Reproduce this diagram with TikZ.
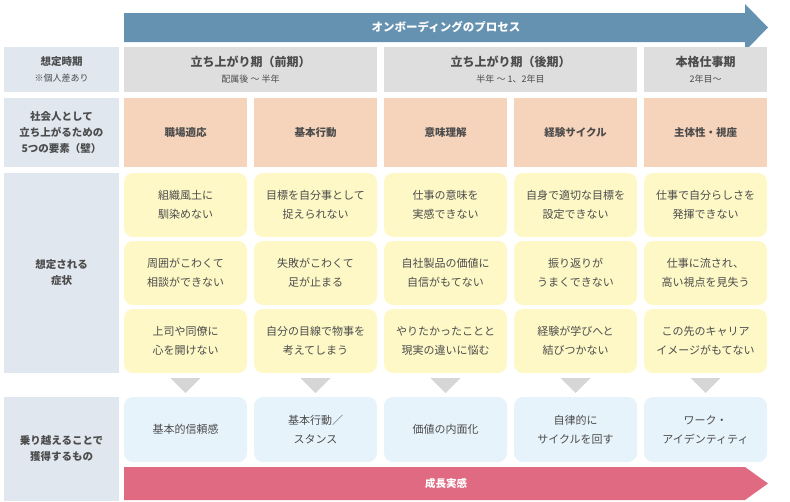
\documentclass[tikz,border=0pt]{standalone}
\usepackage{fontspec}
\setmainfont{Noto Sans CJK JP}
\begin{document}
\begin{tikzpicture}[x=1pt,y=-1pt,
  txt/.style={text=black!70,align=center,font=\fontsize{11}{19}\selectfont},
  lab/.style={fill=labbg,txt,font=\bfseries\fontsize{10.5}{16}\selectfont},
  per/.style={fill=perbg},
  wall/.style={fill=wallbg},
  sym/.style={fill=symbg,rounded corners=9pt},
  gain/.style={fill=gainbg,rounded corners=9pt},
  tri/.style={fill=tribg}]
\definecolor{labbg}{HTML}{E0E7EF}
\definecolor{perbg}{HTML}{DEDEDE}
\definecolor{wallbg}{HTML}{F6D4BB}
\definecolor{symbg}{HTML}{FDF8C6}
\definecolor{gainbg}{HTML}{E7F3FB}
\definecolor{tribg}{HTML}{D6D6D6}
\definecolor{topbg}{HTML}{6692B1}
\definecolor{growbg}{HTML}{DF6A82}
\useasboundingbox (0,0) rectangle (790,501);
% top arrow
\fill[topbg] (124,13) -- (745,13) -- (745,4) -- (768,27.5) -- (745,51) -- (745,42) -- (124,42) -- cycle;
\node[text=white,font=\bfseries\fontsize{11.5}{14}\selectfont] (ttl) at (446,27.5) {オンボーディングのプロセス};
% left labels
\fill[labbg] (4,47) rectangle (119,92);
\node[txt] (l1) at (61.5,69.5) {{\bfseries\fontsize{10.5}{14}\selectfont 想定時期}\\[-3pt]{\fontsize{9}{12}\selectfont ※個人差あり}};
\fill[labbg] (4,98) rectangle (119,167);
\node[lab] (l2) at (61.5,132.5) {社会人として\\立ち上がるための\\5つの要素（壁）};
\fill[labbg] (4,173) rectangle (119,373);
\node[lab] (l3) at (61.5,273) {想定される\\症状};
\fill[labbg] (4,397) rectangle (119,501);
\node[lab] (l4) at (61.5,449) {乗り越えることで\\獲得するもの};
% periods
\fill[perbg] (124,47) rectangle (377,92);
\node[txt] (p1) at (250.5,69.5) {{\bfseries\fontsize{12}{14}\selectfont 立ち上がり期（前期）}\\[-3pt]{\fontsize{9}{12}\selectfont 配属後 〜 半年}};
\fill[perbg] (384,47) rectangle (637,92);
\node[txt] (p2) at (510.5,69.5) {{\bfseries\fontsize{12}{14}\selectfont 立ち上がり期（後期）}\\[-3pt]{\fontsize{9}{12}\selectfont 半年 〜 1、2年目}};
\fill[perbg] (644,47) rectangle (767,92);
\node[txt] (p3) at (705.5,69.5) {{\bfseries\fontsize{12}{14}\selectfont 本格仕事期}\\[-3pt]{\fontsize{9}{12}\selectfont 2年目〜}};
% columns
\foreach \i/\x/\w/\sa/\sb/\sc/\g in {
 1/124/職場適応/組織風土に\\馴染めない/周囲がこわくて\\相談ができない/上司や同僚に\\心を開けない/基本的信頼感,
 2/254/基本行動/目標を自分事として\\捉えられない/失敗がこわくて\\足が止まる/自分の目線で物事を\\考えてしまう/基本行動／\\スタンス,
 3/384/意味理解/仕事の意味を\\実感できない/自社製品の価値に\\自信がもてない/やりたかったことと\\現実の違いに悩む/価値の内面化,
 4/514/経験サイクル/自身で適切な目標を\\設定できない/振り返りが\\うまくできない/経験が学びへと\\結びつかない/自律的に\\サイクルを回す,
 5/644/主体性・視座/仕事で自分らしさを\\発揮できない/仕事に流され、\\高い視点を見失う/この先のキャリア\\イメージがもてない/ワーク・\\アイデンティティ}{
 \fill[wallbg] (\x,98) rectangle ++(123,69);
 \node[txt,font=\bfseries\fontsize{10.5}{14}\selectfont] (w\i) at (\x+61.5,132.5) {\w};
 \fill[sym] (\x,173) rectangle ++(123,64);
 \node[txt] (sa\i) at (\x+61.5,205) {\sa};
 \fill[sym] (\x,241) rectangle ++(123,64);
 \node[txt] (sb\i) at (\x+61.5,273) {\sb};
 \fill[sym] (\x,309) rectangle ++(123,64);
 \node[txt] (sc\i) at (\x+61.5,341) {\sc};
 \fill[tri] (\x+46.5,378) -- (\x+76.5,378) -- (\x+61.5,393) -- cycle;
 \fill[gain] (\x,397) rectangle ++(123,65);
 \node[txt] (g\i) at (\x+61.5,429.5) {\g};
}
% growth arrow
\fill[growbg] (124,467) -- (745,467) -- (768,483.5) -- (745,500) -- (124,500) -- cycle;
\node[text=white,font=\bfseries\fontsize{10.5}{14}\selectfont] (grow) at (446,483.5) {成長実感};
\end{tikzpicture}
\end{document}
